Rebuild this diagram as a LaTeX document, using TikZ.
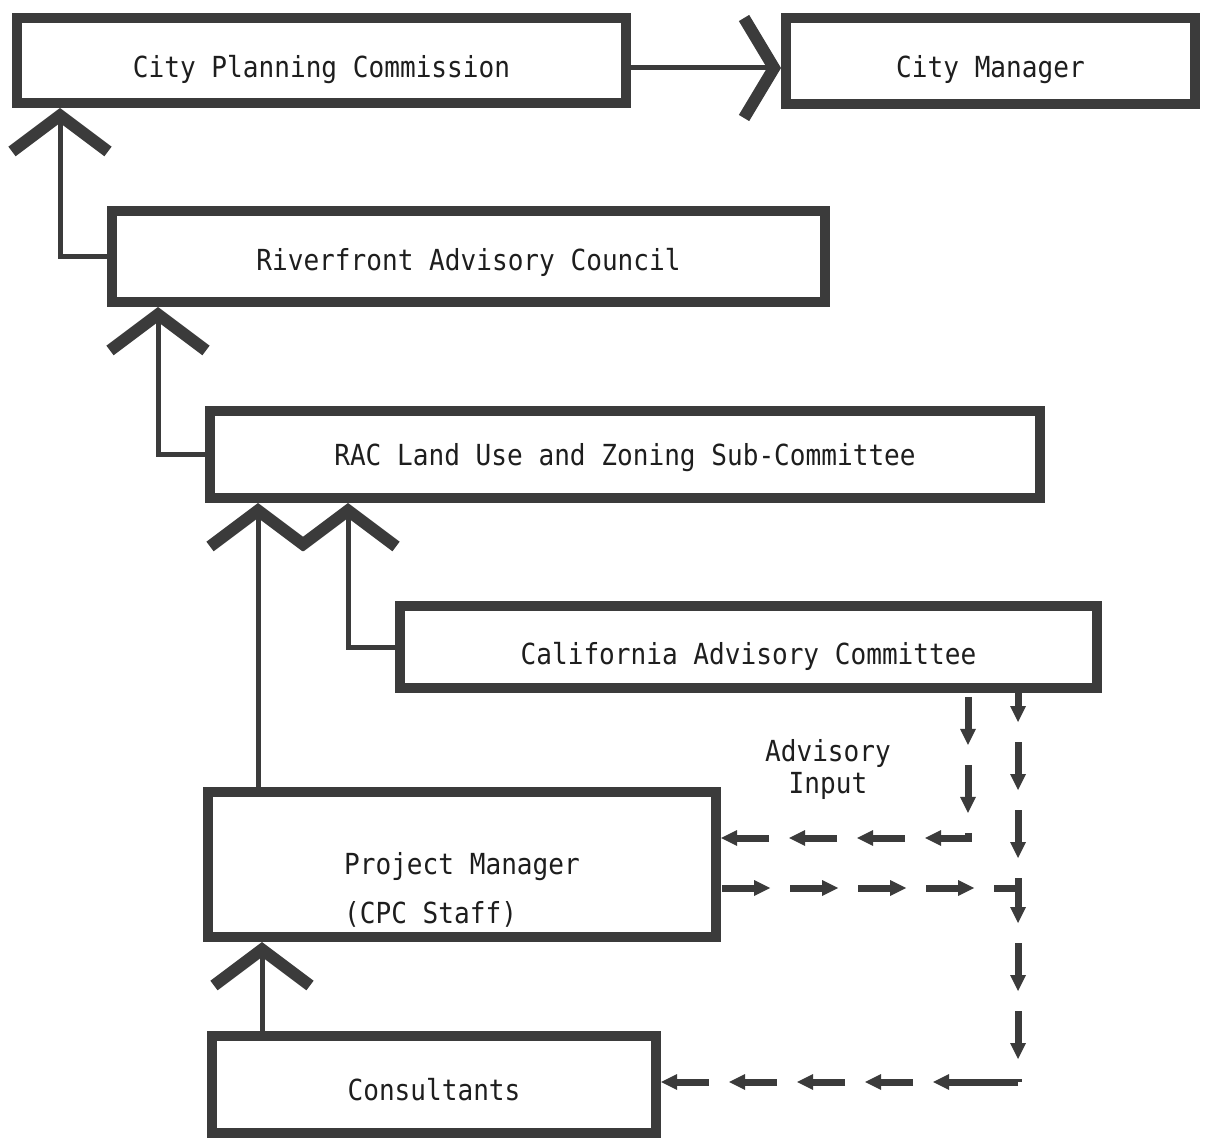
\documentclass[tikz,border=0pt]{standalone}
\usepackage{fontspec}
\usepackage{xcolor}
\usepackage{tikz}
\usetikzlibrary{arrows.meta,calc,decorations.markings}
\newfontfamily\typewriter{DejaVu Sans Mono}[FakeStretch=0.9]
\definecolor{ink}{HTML}{3B3B3B}
\definecolor{type}{HTML}{1E1E1E}
\tikzset{
  unit/.style={rectangle, draw=ink, line width=5pt, fill=white, text=type, inner sep=0pt,
               text height=17pt, text depth=0pt},
  report/.style={draw=ink, line width=2.5pt, -{Straight Barb[length=18pt, width=48pt, line width=6pt]}},
  sideways/.style={draw=ink, line width=2.5pt, -{Straight Barb[length=15pt, width=50pt, line width=6pt]}},
  adv/.style 2 args={draw=ink, line width=3.5pt, dash pattern=on 17pt off 17pt, dash phase=#1,
    postaction={decorate},
    decoration={markings, mark=between positions #2 and 1 step 34pt with {\arrow{Triangle[length=8pt, width=8pt, line width=0pt]}}}},
  lbl/.style={text=type, align=center}
}
\begin{document}
\begin{tikzpicture}[x=0.5pt, y=-0.5pt, every node/.style={font=\typewriter\fontsize{14.5}{18}\selectfont}]
 \useasboundingbox (0,0) rectangle (1212,1139);
 % boxes
 \node[unit, minimum width=304.5pt, minimum height=42.5pt] (cpc) at (321.5,60.5) {City Planning Commission};
 \node[unit, minimum width=204.5pt, minimum height=43pt] (mgr) at (990.5,61) {City Manager};
 \node[unit, minimum width=356.5pt, minimum height=45.5pt, text height=14pt] (rac) at (468.5,256.5) {Riverfront Advisory Council};
 \node[unit, minimum width=415pt, minimum height=43.5pt, text height=11pt] (luz) at (625,454.5) {RAC Land Use and Zoning Sub-Committee};
 \node[unit, minimum width=348.5pt, minimum height=41pt] (cal) at (748.5,647) {California Advisory Committee};
 \node[unit, minimum width=254pt, minimum height=72.5pt, align=left, text height=, text depth=] (pm) at (462,864.5)
   {\rule{0pt}{36pt}Project Manager\\[6.5pt](CPC Staff)};
 \node[unit, minimum width=222pt, minimum height=48.5pt, text height=16pt] (cons) at (434,1084.5) {Consultants};
 \node[lbl] (advin) at (828,769) {Advisory\\[-2pt]Input};
 % lanes
 \coordinate (laneA) at (60,0);
 \coordinate (laneB) at (158,0);
 \coordinate (laneC) at (258,0);
 \coordinate (laneD) at (348,0);
 \coordinate (laneE) at (262,0);
 \draw[sideways] ([yshift=-3.75pt]cpc.east) -- ([yshift=-3.75pt]cpc.east -| mgr.west);
 \draw[report] (rac.west) -| (laneA |- cpc.south);
 \draw[report] (luz.west) -| (laneB |- rac.south);
 \draw[report] (laneC |- pm.north) -- (laneC |- luz.south);
 \draw[report] (cal.west) -| (laneD |- luz.south);
 \draw[report] (laneE |- cons.north) -- (laneE |- pm.south);
 % advisory input
 \coordinate (bendA) at (968,838);
 \coordinate (junc) at (1018,888);
 \coordinate (bendD) at (1018,1082);
 \draw[adv={32.1pt}{25.9pt}] (bendA |- cal.south) -- (bendA) -- (bendA -| pm.east);
 \draw[adv={9.5pt}{14.5pt}] (junc |- cal.south) -- (junc);
 \draw[adv={33.5pt}{24.5pt}] (junc -| pm.east) -- (junc);
 \draw[adv={6.5pt}{17.5pt}] (junc) -- (bendD);
 \draw[adv={0pt}{42.4pt}, dash pattern=on 35.4pt off 17pt on 17pt off 17pt on 17pt off 17pt on 17pt off 17pt on 17pt off 20pt]
   (bendD) -- (bendD -| cons.east);
\end{tikzpicture}
\end{document}
